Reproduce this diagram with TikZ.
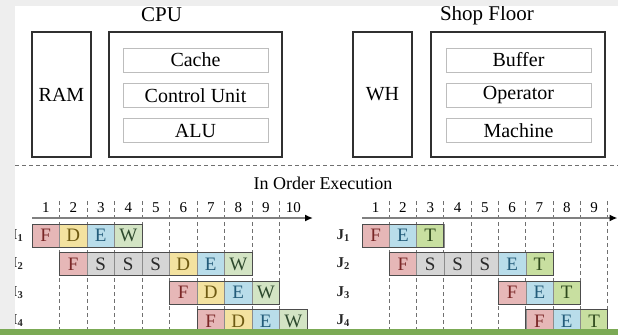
\documentclass[tikz,border=0pt]{standalone}
\usepackage{fontspec}
\setmainfont{Liberation Serif}
\newfontfamily\figserif{Liberation Serif}
\usetikzlibrary{arrows.meta}

\definecolor{pagegray}{HTML}{EEEEEE}
\definecolor{barGreen}{HTML}{7BAA55}
\definecolor{boxLine}{HTML}{303030}
\definecolor{subLine}{HTML}{BDBDBD}
\definecolor{sepLine}{HTML}{707070}
\definecolor{fillF}{HTML}{E6B7B7} \definecolor{textF}{HTML}{7A2626}
\definecolor{fillD}{HTML}{F3E2A0} \definecolor{textD}{HTML}{6E5A12}
\definecolor{fillE}{HTML}{B9DDEA} \definecolor{textE}{HTML}{235C7A}
\definecolor{fillW}{HTML}{D3E4C4} \definecolor{textW}{HTML}{2E4A2E}
\definecolor{fillS}{HTML}{D5D5D5} \definecolor{textS}{HTML}{2A2A2A}
\definecolor{fillT}{HTML}{C8DFA0} \definecolor{textT}{HTML}{2F4A1C}

\tikzset{
  unitbox/.style={draw=boxLine, line width=1.6pt, inner sep=0pt, font=\figserif\fontsize{20}{24}\selectfont},
  subbox/.style={draw=subLine, line width=0.8pt, inner sep=0pt, minimum width=145pt, minimum height=24pt, font=\figserif\fontsize{20}{24}\selectfont},
  grouptitle/.style={inner sep=0pt, font=\figserif\fontsize{21}{25}\selectfont},
  sectiontitle/.style={inner sep=0pt, font=\figserif\fontsize{18}{22}\selectfont},
  colnum/.style={inner sep=0pt, font=\figserif\fontsize{15}{18}\selectfont},
  rowlbl/.style={inner sep=0pt, anchor=east, font=\figserif\bfseries\fontsize{15}{18}\selectfont, text=black!85},
  cell/.style={draw=black!45, line width=0.6pt, minimum height=23pt, inner sep=0pt, font=\figserif\fontsize{19}{22}\selectfont},
  rowframe/.style={draw=black!70, line width=1pt},
  vdash/.style={draw=sepLine, line width=0.9pt, dash pattern=on 4pt off 3pt},
  timeaxis/.style={draw=black!50, line width=1.8pt, -{Latex[length=8pt,width=7pt,color=black]}},
}

% one job/instruction row: #1 name prefix, #2 origin x, #3 column width,
% #4 row number, #5 first column, #6 last column, #7 stage letters
\newcommand\stagerow[7]{%
  \pgfmathsetmacro\rowtop{224+28.5*(#4-1)}%
  \pgfmathsetmacro\rowmid{\rowtop+11.5}%
  \foreach \L [count=\c from #5] in {#7} {
    \node[cell, fill=fill\L, text=text\L, minimum width=#3pt] (#1c\c) at ({#2+(\c-0.5)*#3}, \rowmid) {\L};
  }
  \draw[rowframe] ({#2+(#5-1)*#3}, \rowtop) rectangle ({#2+#6*#3}, \rowtop+23);
}

\begin{document}
\begin{tikzpicture}[x=1pt, y=-1pt]
\useasboundingbox (0,0) rectangle (618,335);
\fill[white] (0,0) rectangle (618,335);

% ---- computer side
\node[grouptitle] (cputitle) at (161.5,15) {CPU};
\node[unitbox, minimum width=59pt, minimum height=125pt] (ram) at (61.5,94.5) {RAM};
\node[unitbox, minimum width=173pt, minimum height=125pt] (cpu) at (195.5,94.5) {};
\node[subbox] (cache) at (195.5,60) {Cache};
\node[subbox] (cu) at (195.5,95.5) {Control Unit};
\node[subbox] (alu) at (195.5,130.5) {ALU};

% ---- factory side
\node[grouptitle] (shoptitle) at (487,15) {Shop Floor};
\node[unitbox, minimum width=59pt, minimum height=125pt] (wh) at (382.5,94.5) {WH};
\node[unitbox, minimum width=174pt, minimum height=125pt] (shop) at (518,94.5) {};
\node[subbox] (buffer) at (518.5,60) {Buffer};
\node[subbox] (operator) at (518.5,95.5) {Operator};
\node[subbox] (machine) at (518.5,130.5) {Machine};

% ---- separator
\draw[vdash] (15,165) -- (618,165);
\node[sectiontitle] (exectitle) at (323,183) {In Order Execution};

% ---- left timeline (instructions)
\foreach \k in {1,...,9} \draw[vdash] ({32+\k*27.5},201) -- ({32+\k*27.5},335);
\foreach \n in {1,...,10} \node[colnum] (ln\n) at ({32+(\n-0.5)*27.5},208) {\n};
\coordinate (lax0) at (32,218);
\coordinate (lax1) at (313,218);
\draw[timeaxis] (lax0) -- (lax1);
\stagerow{L1}{32}{27.5}{1}{1}{4}{F,D,E,W}
\stagerow{L2}{32}{27.5}{2}{2}{8}{F,S,S,S,D,E,W}
\stagerow{L3}{32}{27.5}{3}{6}{9}{F,D,E,W}
\stagerow{L4}{32}{27.5}{4}{7}{10}{F,D,E,W}
\foreach \r in {1,...,4} \node[rowlbl] (li\r) at (23.5,{235.5+28.5*(\r-1)}) {I\textsubscript{\r}};

% ---- right timeline (jobs)
\foreach \k in {1,...,9} \draw[vdash] ({362+\k*27.3},201) -- ({362+\k*27.3},335);
\foreach \n in {1,...,9} \node[colnum] (rn\n) at ({362+(\n-0.5)*27.3},208) {\n};
\coordinate (rax0) at (362,218);
\coordinate (rax1) at (617.5,218);
\draw[timeaxis] (rax0) -- (rax1);
\stagerow{R1}{362}{27.3}{1}{1}{3}{F,E,T}
\stagerow{R2}{362}{27.3}{2}{2}{7}{F,S,S,S,E,T}
\stagerow{R3}{362}{27.3}{3}{6}{8}{F,E,T}
\stagerow{R4}{362}{27.3}{4}{7}{9}{F,E,T}
\foreach \r in {1,...,4} \node[rowlbl] (rj\r) at (350,{235.5+28.5*(\r-1)}) {J\textsubscript{\r}};

% ---- page margins and footer band
\fill[pagegray] (0,0) rectangle (14.5,335);
\fill[pagegray] (0,0) rectangle (618,6);
\fill[barGreen] (0,329) rectangle (618,335);
\end{tikzpicture}
\end{document}
